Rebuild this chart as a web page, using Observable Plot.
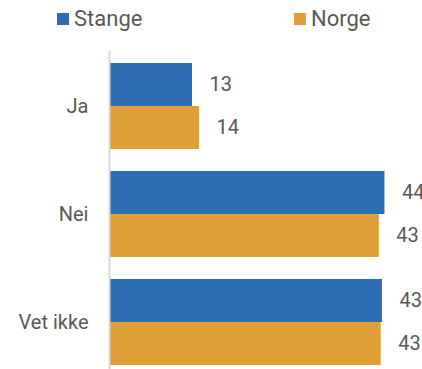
<!DOCTYPE html>
<html>
<head>
<meta charset="utf-8">
<script src="https://cdn.jsdelivr.net/npm/d3@7"></script>
<script src="https://cdn.jsdelivr.net/npm/@observablehq/plot@0.6"></script>
<style>
  html, body { margin: 0; padding: 0; background: #fff; }
  #wrap { position: relative; width: 422px; height: 369px; font-family: Roboto, "Liberation Sans", sans-serif; }
  .leg { position: absolute; top: 6px; display: flex; align-items: center; font-size: 22px; color: #595959; }
  .sw { width: 12px; height: 12px; margin-right: 5px; }
  svg { position: absolute; left: 0; top: 0; }
</style>
</head>
<body>
<div id="wrap"></div>
<script>
const categories = ["Ja", "Nei", "Vet ikke"];
const seriesNames = ["Stange", "Norge"];
const stange = [13.2, 43.8, 43.4];
const norge = [14.3, 42.9, 43.2];
const colors = ["#2C6DB4", "#E09E36"];

const data = [];
categories.forEach((c, i) => {
  data.push({category: c, series: "Stange", value: stange[i]});
  data.push({category: c, series: "Norge", value: norge[i]});
});

const chart = Plot.plot({
  width: 422,
  height: 369,
  marginLeft: 109,
  marginRight: 30,
  marginTop: 62,
  marginBottom: 2,
  style: {fontFamily: "Roboto, 'Liberation Sans', sans-serif", fontSize: "20px", color: "#595959", background: "transparent"},
  x: {domain: [0, 45], axis: null},
  y: {domain: seriesNames, padding: 0, axis: null},
  fy: {domain: categories, paddingInner: 0.2, paddingOuter: 0, label: null, tickSize: 0, tickPadding: 21},
  color: {domain: seriesNames, range: colors},
  facet: {data: data, y: "category", label: null},
  marks: [
    Plot.barX(data, {x: "value", y: "series", fill: "series", inset: 0}),
    Plot.ruleX([0], {stroke: "#d9d9d9", strokeWidth: 2, insetTop: -12, insetBottom: -12}),
    Plot.text(data, {x: "value", y: "series", text: d => d3.format(".0f")(d.value), dx: 17, textAnchor: "start", fill: "#595959", fontSize: 20})
  ]
});

const wrap = document.getElementById("wrap");
wrap.appendChild(chart);

const legendPos = [57, 294];
seriesNames.forEach((s, i) => {
  const el = document.createElement("div");
  el.className = "leg";
  el.style.left = legendPos[i] + "px";
  const sw = document.createElement("span");
  sw.className = "sw";
  sw.style.background = colors[i];
  el.appendChild(sw);
  el.appendChild(document.createTextNode(s));
  wrap.appendChild(el);
});
</script>
</body>
</html>
